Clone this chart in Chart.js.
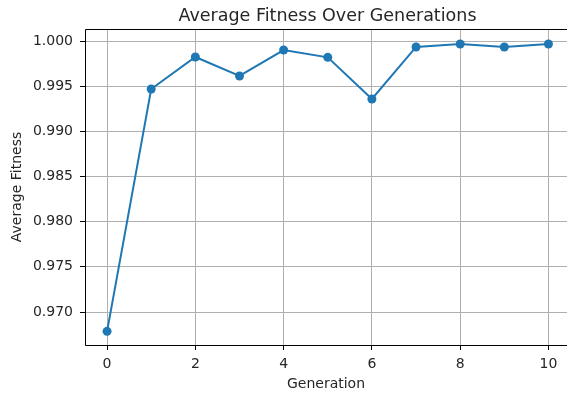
<!DOCTYPE html>
<html>
<head>
<meta charset="utf-8">
<script src="https://cdn.jsdelivr.net/npm/chart.js@4.4.0/dist/chart.umd.min.js"></script>
<style>
  html, body { margin: 0; padding: 0; background: #fff; overflow: hidden; }
  #wrap { width: 567px; height: 393px; }
</style>
</head>
<body>
<div id="wrap"><canvas id="c" width="567" height="393"></canvas></div>
<script>
// values
const generations = [0, 1, 2, 3, 4, 5, 6, 7, 8, 9, 10];
const avgFitness = [0.96786, 0.99469, 0.99823, 0.99613, 0.99900, 0.99819, 0.99358, 0.99934, 0.99967, 0.99934, 0.99967];
const xTicks = [0, 2, 4, 6, 8, 10];
const yTicks = [0.970, 0.975, 0.980, 0.985, 0.990, 0.995, 1.000];

const txt = '#262626';
const font = { family: 'DejaVu Sans', size: 14 };

// matplotlib-like spines (right one is cropped off in the original) + title
const framePlugin = {
    id: 'frame',
    afterDraw(chart) {
        const { ctx, chartArea: a, width } = chart;
        ctx.save();
        ctx.strokeStyle = '#000';
        ctx.lineWidth = 1;
        ctx.beginPath();
        ctx.moveTo(width, a.top + 0.5);
        ctx.lineTo(a.left + 0.5, a.top + 0.5);
        ctx.lineTo(a.left + 0.5, a.bottom + 0.5);
        ctx.lineTo(width, a.bottom + 0.5);
        ctx.stroke();
        ctx.fillStyle = txt;
        ctx.font = '17.5px "DejaVu Sans"';
        ctx.textAlign = 'center';
        ctx.textBaseline = 'middle';
        ctx.fillText('Average Fitness Over Generations', (a.left + 570) / 2, 16);
        ctx.restore();
    }
};

new Chart(document.getElementById('c'), {
    type: 'line',
    data: {
        datasets: [{
            data: generations.map((g, i) => ({ x: g, y: avgFitness[i] })),
            borderColor: '#1f77b4',
            backgroundColor: '#1f77b4',
            borderWidth: 2,
            pointRadius: 4.5,
            pointHoverRadius: 4.5,
            pointBorderWidth: 0,
            tension: 0
        }]
    },
    options: {
        responsive: false, animation: false,
        layout: { autoPadding: false, padding: { top: 29, left: 0, right: 0, bottom: 0 } },
        plugins: { legend: { display: false }, tooltip: { enabled: false } },
        scales: {
            x: {
                type: 'linear', min: -0.5, max: 10.42,
                afterBuildTicks: s => { s.ticks = xTicks.map(v => ({ value: v })); },
                afterFit: s => { s.height = 48; s.paddingRight = 0; s.paddingLeft = 0; },
                grid: { color: '#b0b0b0', lineWidth: 1, tickLength: 5, tickColor: '#000' },
                border: { display: false },
                ticks: { color: txt, font, padding: 6, maxRotation: 0, callback: v => String(v) },
                title: { display: true, text: 'Generation', color: txt, font, padding: { top: 0, bottom: 0 } }
            },
            y: {
                type: 'linear', min: 0.96635, max: 1.00133,
                afterBuildTicks: s => { s.ticks = yTicks.map(v => ({ value: v })); },
                afterFit: s => { s.width = 85; s.paddingTop = 0; s.paddingBottom = 0; },
                grid: { color: '#b0b0b0', lineWidth: 1, tickLength: 5, tickColor: '#000' },
                border: { display: false },
                ticks: { color: txt, font, padding: 7, callback: v => v.toFixed(3) },
                title: { display: true, text: 'Average Fitness', color: txt, font, padding: { top: 9, bottom: 4 } }
            }
        }
    },
    plugins: [framePlugin]
});
</script>
</body>
</html>
